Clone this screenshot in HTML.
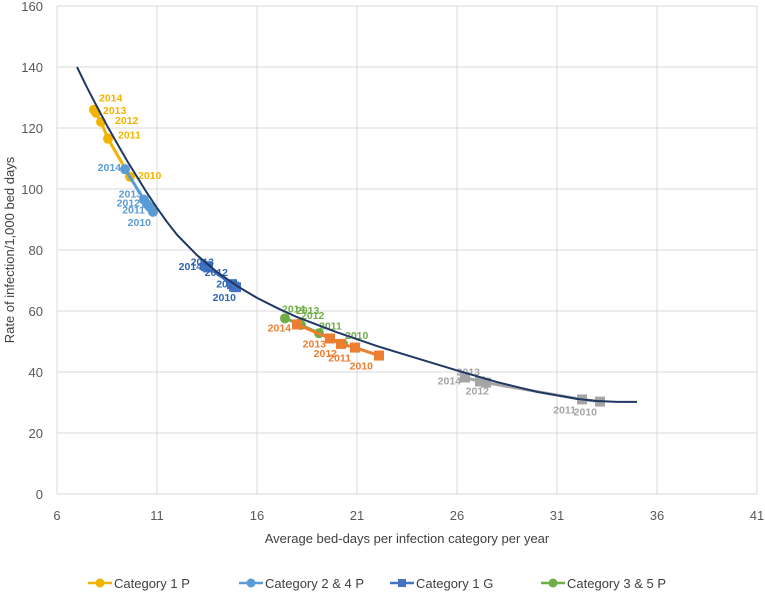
<!DOCTYPE html>
<html><head><meta charset="utf-8"><style>
body{margin:0;background:#fff;font-family:"Liberation Sans",sans-serif}
svg text{font-family:"Liberation Sans",sans-serif}
</style></head><body>
<svg id="c" width="765" height="591"></svg>
<script>
const xTicks=[6,11,16,21,26,31,36,41];
const yTicks=[0,20,40,60,80,100,120,140,160];
const years=["2014","2013","2012","2011","2010"];
const cat1PX=[7.85,7.95,8.2,8.55,9.65];
const cat1PY=[126,125,122,116.5,104];
const cat24PX=[9.4,10.35,10.5,10.65,10.8];
const cat24PY=[106.5,96.5,95,94,92.5];
const cat1GX=[13.45,13.55,14.75,14.85,14.95];
const cat1GY=[74.7,74.3,68.8,68,67.8];
const cat35PX=[17.4,18.1,18.2,19.1,20.3];
const cat35PY=[57.6,55.8,55.4,52.7,49.2];
const cat6X=[18.0,19.65,20.2,20.9,22.1];
const cat6Y=[55.6,51,49.2,48,45.4];
const catGX=[26.4,27.15,27.45,32.25,33.15];
const catGY=[38.2,36.9,36.5,31,30.3];
const trendX=[7,7.5,8,8.5,9,9.5,10,10.5,11,11.5,12,13,14,15,16,17,18,20,22,24,26,28,30,32,33,34,35];
const trendY=[140,133.3,127,120.8,115,109.3,104,98.7,93.8,89.2,85,78.3,72.8,68.2,64.3,61,58,53,48.5,44.5,40.5,36.7,33.5,31.2,30.5,30.2,30.2];

const L=57,R=757,T=6,B=494;
const sx=v=>L+(v-6)*(R-L)/35;
const sy=v=>B-v*(B-T)/160;
const svg=document.getElementById('c');
const NS='http://www.w3.org/2000/svg';
function mk(t,a,p){const e=document.createElementNS(NS,t);for(const k in a)e.setAttribute(k,a[k]);(p||svg).appendChild(e);return e;}

yTicks.forEach(v=>{
  const l=mk('line',{x1:L,x2:R,y1:sy(v),y2:sy(v),stroke:'#d9d9d9','stroke-width':1});
  
  
  const t=mk('text',{x:L-14,y:sy(v)+5,'text-anchor':'end','font-size':13,fill:'#595959'});
  t.textContent=v;
  
  
});
xTicks.forEach(v=>{
  const l=mk('line',{x1:sx(v),x2:sx(v),y1:T,y2:B,stroke:'#d9d9d9','stroke-width':1});
  
  
  const t=mk('text',{x:sx(v),y:520,'text-anchor':'middle','font-size':13,fill:'#595959'});
  t.textContent=v;
  
  
});
const xt=mk('text',{x:407,y:543,'text-anchor':'middle','font-size':13,fill:'#404040'});
xt.textContent='Average bed-days per infection category per year';


const yt=mk('text',{x:14,y:250,'text-anchor':'middle','font-size':13,fill:'#404040',transform:'rotate(-90 14 250)'});
yt.textContent='Rate of infection/1,000 bed days';



const series=[
 {name:'category-1-p',xs:cat1PX,ys:cat1PY,c:'#f2b400',sq:false,lab:[[5,-8],[7,1],[14,2],[10,0],[8,2]],anc:'start'},
 {name:'category-2-4-p',xs:cat24PX,ys:cat24PY,c:'#5b9bd5',sq:false,lab:[[-4,2],[-2,-2],[-7,2],[-5,6],[-2,14]],anc:'end'},
 {name:'category-1-g',xs:cat1GX,ys:cat1GY,c:'#4472c4',sq:true,lab:[[-4,4],[6,-2],[-4,-8],[5,1],[0,14]],anc:'end',tc:'#2e65b3'},
 {name:'category-3-5-p',xs:cat35PX,ys:cat35PY,c:'#70ad47',sq:false,lab:[[-3,-6],[-3,-10],[0,-6],[0,-4],[2,-5]],anc:'start'},
 {name:'category-6',xs:cat6X,ys:cat6Y,c:'#ed7d31',sq:true,lab:[[-6,7],[-4,9],[-4,13],[-4,14],[-6,14]],anc:'end'},
 {name:'category-grey',xs:catGX,ys:catGY,c:'#a5a5a5',sq:true,lab:[[-4,7],[0,-6],[3,12],[-6,14],[-3,14]],anc:'end'}
];
series.forEach(s=>{
  const g=mk('g',{});
  
  
  const pts=s.xs.map((x,i)=>sx(x)+','+sy(s.ys[i])).join(' ');
  mk('polyline',{points:pts,fill:'none',stroke:s.c,'stroke-width':3},g);
  s.xs.forEach((x,i)=>{
    let m;
    if(s.sq)m=mk('rect',{x:sx(x)-5,y:sy(s.ys[i])-5,width:10,height:10,fill:s.c},g);
    else m=mk('circle',{cx:sx(x),cy:sy(s.ys[i]),r:5,fill:s.c},g);
    
    
    const o=s.lab[i];
    const t=mk('text',{x:sx(x)+o[0],y:sy(s.ys[i])+o[1],'text-anchor':s.anc,'font-size':10.5,'font-weight':'bold',fill:s.tc||s.c},g);
    t.textContent=years[i];
    
    
  });
});
const tr=mk('polyline',{points:trendX.map((x,i)=>sx(x)+','+sy(trendY[i])).join(' '),fill:'none',stroke:'#1f3864','stroke-width':2,'stroke-linejoin':'round'});



const leg=[['Category 1 P','#f2b400',false,88],['Category 2 & 4 P','#5b9bd5',false,239],['Category 1 G','#4472c4',true,390],['Category 3 & 5 P','#70ad47',false,541]];
leg.forEach(l=>{
  const g=mk('g',{});
  
  
  mk('line',{x1:l[3],x2:l[3]+24,y1:583,y2:583,stroke:l[1],'stroke-width':2.5},g);
  if(l[2])mk('rect',{x:l[3]+8,y:579,width:8,height:8,fill:l[1]},g);
  else mk('circle',{cx:l[3]+12,cy:583,r:4.5,fill:l[1]},g);
  const t=mk('text',{x:l[3]+26,y:588,'font-size':13,fill:'#404040'},g);
  t.textContent=l[0];
});
</script>
</body></html>
